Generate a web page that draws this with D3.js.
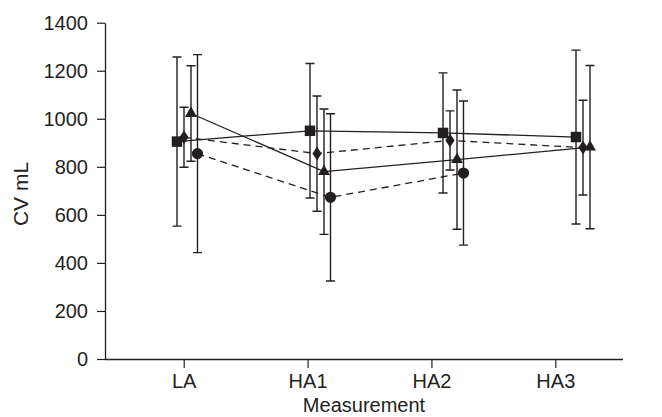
<!DOCTYPE html>
<html>
<head>
<meta charset="utf-8">
<script src="https://cdn.jsdelivr.net/npm/d3@7"></script>
<style>
  body { margin: 0; background: #fff; }
  svg { display: block; font-family: "Liberation Sans", Arial, sans-serif; }
</style>
</head>
<body>
<div id="viz-container"></div>
<script>
// categories and tick labels
let categories = ["LA", "HA1", "HA2", "HA3"];
let yTicks = [0, 200, 400, 600, 800, 1000, 1200, 1400];

// series: mean and SD per measurement (null = no point)
let squareMean = [905, 950, 941, 924];
let squareSD = [352, 280, 250, 362];
let diamondMean = [923, 855, 910, 880];
let diamondSD = [125, 240, 123, 197];
let triangleMean = [1022, 780, 830, 882];
let triangleSD = [199, 261, 290, 340];
let circleMean = [855, 673, 774, null];
let circleSD = [412, 348, 300, null];

let series = [
    {name: "square", mean: squareMean, sd: squareSD, symbol: d3.symbolSquare, size: 110, dash: null, offset: 0},
    {name: "diamond", mean: diamondMean, sd: diamondSD, symbol: d3.symbolDiamond, size: 55, dash: "7,5", offset: 7},
    {name: "triangle", mean: triangleMean, sd: triangleSD, symbol: d3.symbolTriangle, size: 62, dash: null, offset: 14},
    {name: "circle", mean: circleMean, sd: circleSD, symbol: d3.symbolCircle, size: 100, dash: "7,5", offset: 20.5}
];

let ink = "#231f20";
let fontSize = "20px";

let viz = d3.select("#viz-container")
    .append("svg")
        .attr("width", 662)
        .attr("height", 417);

// axis scale (tick positions) and point scale (marker positions differ slightly in the figure)
let xAxisScale = d3.scalePoint().domain(categories).range([183.7, 555.3]);
let xPoint = d3.scalePoint().domain(categories).range([177, 576]);
let y = d3.scaleLinear().domain([0, 1400]).range([359, 22.7]);

// y axis
let yAxis = viz.append("g")
    .attr("transform", "translate(105,0)")
    .call(d3.axisLeft(y).tickValues(yTicks).tickFormat(d3.format("d"))
        .tickSize(8).tickSizeOuter(0).tickPadding(9));
yAxis.select(".domain").attr("stroke", ink).attr("stroke-width", 1.3);
yAxis.selectAll(".tick line").attr("stroke", ink).attr("stroke-width", 1.2);
yAxis.selectAll(".tick text").attr("font-size", fontSize).attr("fill", ink)
    .style("font-family", "'Liberation Sans', Arial, sans-serif");

// x axis
let xAxis = viz.append("g")
    .attr("transform", "translate(0,359)")
    .call(d3.axisBottom(xAxisScale).tickSize(9).tickSizeOuter(0).tickPadding(6));
xAxis.select(".domain").attr("d", "M105,0.5H623").attr("stroke", ink).attr("stroke-width", 1.3);
xAxis.selectAll(".tick line").attr("stroke", ink).attr("stroke-width", 1.2);
xAxis.selectAll(".tick text").attr("font-size", fontSize).attr("fill", ink)
    .style("font-family", "'Liberation Sans', Arial, sans-serif");

// axis titles
viz.append("text")
    .text("Measurement")
    .attr("x", 364)
    .attr("y", 412)
    .attr("text-anchor", "middle")
    .attr("font-size", fontSize)
    .attr("fill", ink);

viz.append("text")
    .text("CV mL")
    .attr("transform", "translate(28,194) rotate(-90)")
    .attr("text-anchor", "middle")
    .attr("font-size", "21px")
    .attr("fill", ink);

// build point records
function pointsOf(s) {
    return categories.map(function(c, i) {
        return {cat: c, mean: s.mean[i], sd: s.sd[i], x: xPoint(c) + s.offset};
    }).filter(function(d) { return d.mean != null; });
}

let line = d3.line()
    .x(function(d) { return d.x; })
    .y(function(d) { return y(d.mean); });

// error bars
series.forEach(function(s) {
    let pts = pointsOf(s);
    let g = viz.append("g").attr("class", "err-" + s.name)
        .attr("stroke", ink).attr("stroke-width", 1.4).attr("fill", "none");
    g.selectAll(".bar").data(pts).enter().append("path")
        .attr("d", function(d) {
            let top = y(d.mean + d.sd), bot = y(d.mean - d.sd);
            return "M" + d.x + "," + top + "V" + bot +
                   "M" + (d.x - 4.5) + "," + top + "H" + (d.x + 4.5) +
                   "M" + (d.x - 4.5) + "," + bot + "H" + (d.x + 4.5);
        });
});

// lines
series.forEach(function(s) {
    viz.append("path")
        .datum(pointsOf(s))
        .attr("d", line)
        .attr("fill", "none")
        .attr("stroke", ink)
        .attr("stroke-width", 1.3)
        .attr("stroke-dasharray", s.dash);
});

// markers
series.forEach(function(s) {
    let sym = d3.symbol().type(s.symbol).size(s.size);
    viz.selectAll(".m-" + s.name).data(pointsOf(s)).enter().append("path")
        .attr("class", "m-" + s.name)
        .attr("d", sym)
        .attr("fill", ink)
        .attr("transform", function(d) {
            let sy = s.name == "diamond" ? " scale(1.15,1)" : "";
            return "translate(" + d.x + "," + y(d.mean) + ")" + sy;
        });
});
</script>
</body>
</html>
